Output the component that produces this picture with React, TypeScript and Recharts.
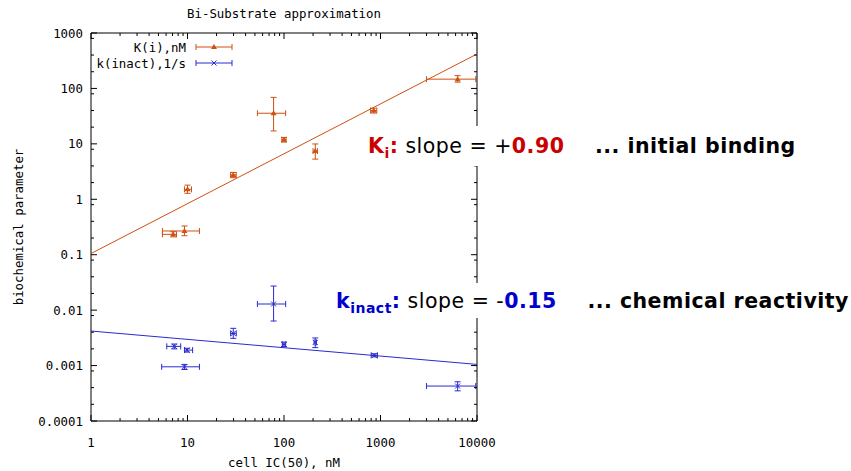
import React from 'react';
import { ComposedChart, Scatter, XAxis, YAxis, ErrorBar, Label } from 'recharts';

const MONO = '"DejaVu Sans Mono", "Liberation Mono", monospace';
const SANS = '"DejaVu Sans", Verdana, sans-serif';
const KI_COLOR = '#cf5010';
const KINACT_COLOR = '#2a2acf';

// K(i), nM  vs  cell IC(50), nM
const kiX = [7.1, 9.3, 10.0, 29.8, 78, 100, 211, 850, 6300];
const kiY = [0.233, 0.268, 1.51, 2.75, 35.7, 11.9, 7.4, 39.9, 147];
const kiXLo = [5.5, 5.5, 9.3, 28, 53, 95, 200, 790, 3000];
const kiXHi = [7.7, 13.3, 11, 32, 104, 105, 222, 915, 9700];
const kiYLo = [0.21, 0.22, 1.28, 2.45, 17.1, 10.8, 5.3, 36, 130];
const kiYHi = [0.26, 0.33, 1.8, 3.05, 69, 13, 9.96, 44, 170];

// k(inact), 1/s  vs  cell IC(50), nM
const kX = [7.3, 9.9, 9.3, 29.8, 78, 100, 211, 862, 6300];
const kY = [0.00222, 0.0019, 0.00095, 0.0038, 0.0129, 0.00241, 0.00262, 0.00153, 0.000427];
const kXLo = [6.1, 9.3, 5.4, 28, 53, 96, 205, 800, 3000];
const kXHi = [8.5, 11.3, 13.3, 32, 104, 104, 217, 930, 9700];
const kYLo = [0.002, 0.00175, 0.00085, 0.0031, 0.00636, 0.0022, 0.00211, 0.00143, 0.00035];
const kYHi = [0.00245, 0.00205, 0.00105, 0.0047, 0.0272, 0.00265, 0.00315, 0.00163, 0.00051];

// fitted lines (end points)
const fitX = [1, 10000];
const kiFitY = [0.105, 418];
const kFitY = [0.0042, 0.00105];

const xMajor = [1, 10, 100, 1000, 10000];
const xTickLabels = ['1', '10', '100', '1000', '10000'];
const yMajor = [0.0001, 0.001, 0.01, 0.1, 1, 10, 100, 1000];
const yTickLabels = ['0.0001', '0.001', '0.01', '0.1', '1', '10', '100', '1000'];
const xMinorSteps = [2, 3, 4, 5, 6, 7, 8, 9];
const yMinorSteps = [2, 4, 8];

const withMinor = (majors: number[], steps: number[]) =>
  majors.flatMap((m, i) => (i === majors.length - 1 ? [m] : [m, ...steps.map((s) => m * s)]));
const xTicks = withMinor(xMajor, xMinorSteps);
const yTicks = withMinor(yMajor, yMinorSteps);

const majorIndex = (majors: number[], v: number) =>
  majors.findIndex((m) => Math.abs(m - v) / m < 1e-6);

const build = (x: number[], y: number[], xlo: number[], xhi: number[], ylo: number[], yhi: number[]) =>
  x.map((xv, i) => ({
    x: xv,
    y: y[i],
    ex: [xv - xlo[i], xhi[i] - xv],
    ey: [y[i] - ylo[i], yhi[i] - y[i]],
  }));

const kiData = build(kiX, kiY, kiXLo, kiXHi, kiYLo, kiYHi);
const kData = build(kX, kY, kXLo, kXHi, kYLo, kYHi);
const kiFit = fitX.map((x, i) => ({ x, y: kiFitY[i] }));
const kFit = fitX.map((x, i) => ({ x, y: kFitY[i] }));

const textStyle = { fontFamily: MONO, fontSize: 12.4, fill: '#000' };

const renderXTick = (p: any, side: 'bottom' | 'top') => {
  const idx = majorIndex(xMajor, p.payload.value);
  const len = idx >= 0 ? 6 : 3;
  const dir = side === 'bottom' ? -1 : 1;
  return (
    <g>
      <line x1={p.x} y1={p.y} x2={p.x} y2={p.y + dir * len} stroke="#000" />
      {side === 'bottom' && idx >= 0 && (
        <text x={p.x} y={p.y + 21} textAnchor="middle" dominantBaseline="central" style={textStyle}>
          {xTickLabels[idx]}
        </text>
      )}
    </g>
  );
};

const renderYTick = (p: any, side: 'left' | 'right') => {
  const idx = majorIndex(yMajor, p.payload.value);
  const len = idx >= 0 ? 6 : 3;
  const dir = side === 'left' ? 1 : -1;
  return (
    <g>
      <line x1={p.x} y1={p.y} x2={p.x + dir * len} y2={p.y} stroke="#000" />
      {side === 'left' && idx >= 0 && (
        <text x={p.x - 8} y={p.y} textAnchor="end" dominantBaseline="central" style={textStyle}>
          {yTickLabels[idx]}
        </text>
      )}
    </g>
  );
};

const Triangle = (p: any) => (
  <path d={`M${p.cx},${p.cy - 3}L${p.cx + 3},${p.cy + 2}L${p.cx - 3},${p.cy + 2}Z`} fill={KI_COLOR} />
);
const Cross = (p: any) => (
  <path
    d={`M${p.cx - 2.5},${p.cy - 2.5}L${p.cx + 2.5},${p.cy + 2.5}M${p.cx - 2.5},${p.cy + 2.5}L${p.cx + 2.5},${p.cy - 2.5}`}
    stroke={KINACT_COLOR}
    strokeWidth={1}
  />
);

const LegendRow = ({ y, label, color, marker }: { y: number; label: string; color: string; marker: 'tri' | 'x' }) => (
  <g>
    <text x={186} y={y} textAnchor="end" dominantBaseline="central" style={{ ...textStyle, fill: '#000' }}>
      {label}
    </text>
    <line x1={196} y1={y} x2={232} y2={y} stroke={color} />
    <line x1={196} y1={y - 3} x2={196} y2={y + 3} stroke={color} />
    <line x1={232} y1={y - 3} x2={232} y2={y + 3} stroke={color} />
    {marker === 'tri' ? (
      <path d={`M214,${y - 3}L217,${y + 2}L211,${y + 2}Z`} fill={color} />
    ) : (
      <path d={`M211.5,${y - 2.5}L216.5,${y + 2.5}M211.5,${y + 2.5}L216.5,${y - 2.5}`} stroke={color} />
    )}
  </g>
);

const bold = { fontWeight: 700 };
const noteStyle = {
  position: 'absolute' as const,
  background: '#fff',
  fontFamily: SANS,
  fontSize: 20.5,
  letterSpacing: 0.5,
  lineHeight: '24px',
  whiteSpace: 'pre' as const,
  color: '#000',
};
const subStyle = { fontSize: 14, verticalAlign: '-5px', lineHeight: 0 };

export default function App() {
  return (
    <div style={{ position: 'absolute', left: 0, top: 0, width: 851, height: 471, background: '#fff' }}>
      <ComposedChart width={851} height={471} margin={{ top: 32, right: 373, bottom: 20, left: 0 }}>
        <XAxis
          xAxisId="b"
          type="number"
          dataKey="x"
          scale="log"
          domain={[1, 10000]}
          allowDataOverflow
          ticks={xTicks}
          interval={0}
          height={30}
          tickSize={0}
          tickMargin={0}
          axisLine={{ stroke: '#000' }}
          tick={(p: any) => renderXTick(p, 'bottom')}
        >
          <Label
            content={(p: any) => (
              <text x={p.viewBox.x + p.viewBox.width / 2} y={462} textAnchor="middle" dominantBaseline="central" style={textStyle}>
                cell IC(50), nM
              </text>
            )}
          />
        </XAxis>
        <XAxis
          xAxisId="t"
          orientation="top"
          type="number"
          dataKey="x"
          scale="log"
          domain={[1, 10000]}
          allowDataOverflow
          ticks={xTicks}
          interval={0}
          height={1}
          tickSize={0}
          tickMargin={0}
          axisLine={{ stroke: '#000' }}
          tick={(p: any) => renderXTick(p, 'top')}
        >
          <Label
            content={(p: any) => (
              <text x={p.viewBox.x + p.viewBox.width / 2} y={13} textAnchor="middle" dominantBaseline="central" style={textStyle}>
                Bi-Substrate approximation
              </text>
            )}
          />
        </XAxis>
        <YAxis
          yAxisId="l"
          type="number"
          dataKey="y"
          scale="log"
          domain={[0.0001, 1000]}
          allowDataOverflow
          ticks={yTicks}
          interval={0}
          width={91}
          tickSize={0}
          tickMargin={0}
          axisLine={{ stroke: '#000' }}
          tick={(p: any) => renderYTick(p, 'left')}
        >
          <Label
            content={(p: any) => (
              <text
                x={18}
                y={p.viewBox.y + p.viewBox.height / 2}
                textAnchor="middle"
                dominantBaseline="central"
                transform={`rotate(-90, 18, ${p.viewBox.y + p.viewBox.height / 2})`}
                style={textStyle}
              >
                biochemical parameter
              </text>
            )}
          />
        </YAxis>
        <YAxis
          yAxisId="r"
          orientation="right"
          type="number"
          dataKey="y"
          scale="log"
          domain={[0.0001, 1000]}
          allowDataOverflow
          ticks={yTicks}
          interval={0}
          width={1}
          tickSize={0}
          tickMargin={0}
          axisLine={{ stroke: '#000' }}
          tick={(p: any) => renderYTick(p, 'right')}
        />

        <Scatter
          xAxisId="b"
          yAxisId="l"
          data={kiFit}
          dataKey="y"
          line={{ stroke: KI_COLOR, strokeWidth: 1 }}
          shape={() => <g />}
          isAnimationActive={false}
        />
        <Scatter
          xAxisId="b"
          yAxisId="l"
          data={kFit}
          dataKey="y"
          line={{ stroke: KINACT_COLOR, strokeWidth: 1 }}
          shape={() => <g />}
          isAnimationActive={false}
        />
        <Scatter xAxisId="b" yAxisId="l" data={kiData} dataKey="y" shape={Triangle} isAnimationActive={false}>
          <ErrorBar dataKey="ex" direction="x" width={3} stroke={KI_COLOR} strokeWidth={1} isAnimationActive={false} />
          <ErrorBar dataKey="ey" direction="y" width={3} stroke={KI_COLOR} strokeWidth={1} isAnimationActive={false} />
        </Scatter>
        <Scatter xAxisId="b" yAxisId="l" data={kData} dataKey="y" shape={Cross} isAnimationActive={false}>
          <ErrorBar dataKey="ex" direction="x" width={3} stroke={KINACT_COLOR} strokeWidth={1} isAnimationActive={false} />
          <ErrorBar dataKey="ey" direction="y" width={3} stroke={KINACT_COLOR} strokeWidth={1} isAnimationActive={false} />
        </Scatter>
      </ComposedChart>

      <svg width={851} height={471} style={{ position: 'absolute', left: 0, top: 0, pointerEvents: 'none' }}>
        <LegendRow y={47} label="K(i),nM" color={KI_COLOR} marker="tri" />
        <LegendRow y={63} label="k(inact),1/s" color={KINACT_COLOR} marker="x" />
      </svg>

      <div style={{ ...noteStyle, left: 368, top: 126, padding: '8px 0' }}>
        <span style={{ ...bold, color: '#cc0000' }}>
          K<sub style={subStyle}>i</sub>:
        </span>
        <span> slope = +</span>
        <span style={{ ...bold, color: '#cc0000' }}>0.90</span>
        <span style={bold}>{'    ... initial binding'}</span>
      </div>

      <div style={{ ...noteStyle, left: 336, top: 283, padding: '6px 0 5px 0' }}>
        <span style={{ ...bold, color: '#0000cc' }}>
          k<sub style={subStyle}>inact</sub>:
        </span>
        <span> slope = -</span>
        <span style={{ ...bold, color: '#0000cc' }}>0.15</span>
        <span style={bold}>{'    ... chemical reactivity'}</span>
      </div>
    </div>
  );
}
